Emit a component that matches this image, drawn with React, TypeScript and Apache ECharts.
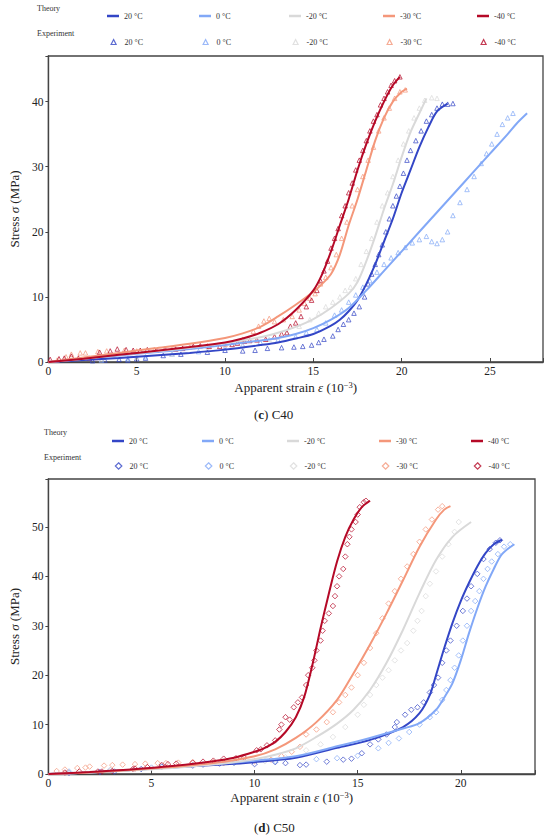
import React, { useEffect, useRef } from "react";
import * as echarts from "echarts";

const FONT = "Liberation Serif";

const tempLabels = ["20 °C", "0 °C", "-20 °C", "-30 °C", "-40 °C"];
const tempColors = ["#3346c6", "#82a8f7", "#d9d9d9", "#f4977a", "#b50927"];

// ---------- C40 theory ----------
const c40T20 = [[0,0],[2,0.3],[4,0.6],[6,1.0],[8,1.4],[10,1.9],[12,2.6],[13,3.0],[14,3.6],[15,4.3],[16,5.6],[16.5,6.5],[17,7.8],[17.5,9.5],[18,12],[18.5,15],[19,18.5],[19.5,22],[20,26],[20.5,29.5],[21,33],[21.5,36],[22,38.5],[22.6,39.7]];
const c40T0 = [[0,0],[2,0.5],[4,1.0],[6,1.5],[8,2.0],[10,2.6],[12,3.3],[13,3.7],[14,4.3],[15,5.2],[16,6.5],[17,8.3],[18,11],[19,14],[20,17],[21,20],[22,23],[23,26],[24,29],[25,32],[26,35],[26.5,36.6],[27.1,38.2]];
const c40Tm20 = [[0,0],[2,0.5],[4,1.1],[6,1.6],[8,2.2],[10,2.9],[12,3.8],[13,4.5],[14,5.4],[15,6.6],[16,8.3],[17,10.5],[17.5,12.3],[18,15.5],[18.5,19.3],[19,23.5],[19.5,27.3],[20,31.5],[20.5,35.3],[21,38.2],[21.4,40.5]];
const c40Tm30 = [[0,0],[2,0.7],[4,1.4],[6,2.1],[8,2.8],[10,3.7],[11,4.4],[12,5.4],[13,7],[14,8.8],[15,10.8],[15.5,12],[16,13.5],[16.5,16.5],[17,21],[17.5,25],[18,29.5],[18.5,34],[19,37.5],[19.5,40],[20,41.5],[20.3,42]];
const c40Tm40 = [[0,0],[2,0.5],[4,1.1],[6,1.7],[8,2.3],[10,3.0],[11,3.6],[12,4.5],[13,5.8],[14,8],[15,11],[15.5,13.5],[16,17],[16.5,21],[17,25],[17.5,29.5],[18,33.5],[18.5,37],[19,40],[19.5,42.5],[19.9,43.8]];

// ---------- C40 experiment ----------
const c40E20 = [[2.5,0.2],[3.2,0.3],[4,0.4],[4.5,0.3],[5,0.5],[5.5,0.6],[6.5,1.0],[7.5,1.2],[9,1.5],[10,1.8],[11,1.7],[11.7,1.8],[12.4,2.1],[13.2,2.2],[13.9,2.3],[14.4,2.4],[14.9,2.6],[15.3,3.0],[15.6,3.5],[16.1,4.0],[16.4,5.0],[16.7,5.8],[17,6.5],[17.3,7.5],[17.6,8.5],[17.9,10],[18.1,12],[18.3,13.5],[18.5,15],[18.7,16.5],[18.9,18],[19.1,20],[19.3,22],[19.5,24],[19.7,25.5],[19.9,27],[20.1,29],[20.3,31],[20.5,32.5],[20.8,34],[21.1,35.5],[21.4,37],[21.7,38],[22,39],[22.3,39.6],[22.6,39.6],[22.9,39.7]];
const c40E0 = [[3,0.3],[4.5,0.5],[5.5,0.8],[7,1.2],[8.5,1.6],[10,2.2],[11,2.6],[12,3],[13,3.4],[14,3.9],[14.6,4.5],[15.2,5],[15.7,6],[16.2,7.2],[16.6,8],[17,9.2],[17.4,10.3],[17.8,11.5],[18.2,12.5],[18.6,13.8],[19,15],[19.4,16],[19.8,16.8],[20.2,17.6],[20.6,18.3],[21,18.8],[21.4,19.3],[21.7,18.5],[22,18.2],[22.3,18.8],[22.6,20],[22.9,22.5],[23.3,24.5],[23.7,26.5],[24.1,28.5],[24.5,30.5],[24.8,32],[25.1,33.5],[25.4,35],[25.7,36.5],[26,37.5],[26.3,38.2]];
const c40Em20 = [[3,0.5],[5,0.8],[7,1.2],[9,1.8],[11,2.5],[12.5,3.5],[13.5,4.5],[14.2,5.5],[14.8,6.5],[15.3,7.5],[15.7,8.5],[16.1,9.2],[16.5,10],[16.8,11],[17.1,11.5],[17.4,12.8],[17.7,15],[18,17],[18.3,19],[18.6,21.5],[18.9,24],[19.2,26],[19.5,28.5],[19.8,31],[20.1,33.5],[20.4,35.5],[20.7,37.5],[21,39],[21.3,40.2],[21.7,40.6],[22,40.5]];
const c40Em30 = [[0.5,0.3],[1,0.8],[1.3,1.2],[1.8,1.4],[2.1,1.4],[2.8,1.6],[3.3,1.7],[4.3,1.8],[5,1.7],[6,1.9],[7,2.1],[8,2.3],[9,2.5],[10,2.7],[11,3.5],[11.6,4.7],[11.9,5.5],[12.2,6.3],[12.5,6.7],[12.8,6.2],[13.3,6.5],[13.8,7],[14.2,8],[14.5,9],[14.8,9.8],[15.1,10.5],[15.4,12],[15.7,13],[16,14.5],[16.3,16.5],[16.6,19],[16.9,21.5],[17.2,24],[17.5,26.5],[17.8,28.5],[18.1,31],[18.4,33],[18.7,35.5],[19,37.5],[19.3,39],[19.6,40.5],[19.9,41.5],[20.2,41.8]];
const c40Em40 = [[0.1,0.4],[0.6,0.5],[0.9,0.6],[1.3,0.9],[1.7,0.6],[2.3,0.6],[2.7,0.7],[2.9,1.5],[3.5,1.7],[3.9,2.0],[4.4,1.9],[4.8,1.8],[5.2,1.8],[5.6,1.9],[6.1,1.8],[6.6,2.0],[7.2,2.0],[7.6,2.1],[8.2,2.4],[8.6,2.5],[9.1,2.4],[9.7,2.4],[10.4,2.7],[10.7,2.9],[11.1,3.2],[11.4,3.3],[11.8,3.4],[12.3,3.5],[12.8,3.9],[13.2,4.3],[13.5,4.5],[13.7,5.5],[14,6],[14.3,7],[14.6,8.5],[14.9,9.5],[15.2,11],[15.4,12.5],[15.6,14],[15.8,15.5],[16,17.5],[16.2,19],[16.4,20.5],[16.6,22.5],[16.8,24],[17,26],[17.2,27.5],[17.4,29.5],[17.6,31],[17.8,32.5],[18,34],[18.2,35.5],[18.4,37],[18.6,38],[18.8,39.5],[19,40.5],[19.2,41.5],[19.4,42.5],[19.6,43.2],[19.9,43.8]];

// ---------- C50 theory ----------
const c50T20 = [[0,0],[2,0.3],[4,0.8],[6,1.3],[8,1.8],[10,2.4],[12,3.3],[14,5.3],[15.6,6.9],[17.2,9.5],[18,12.3],[18.5,16],[18.8,20],[19.2,25.5],[19.6,30.6],[20,35],[20.4,38.7],[20.8,42],[21.2,44.7],[21.6,46.5],[22,47.4]];
const c50T0 = [[0,0],[2,0.3],[4,0.8],[6,1.4],[8,2.0],[10,2.7],[12,3.6],[14,5.6],[15.6,7.3],[17.2,9.2],[18,10.3],[18.8,13],[19.2,15.5],[19.6,18.4],[20,23],[20.4,28.5],[20.8,33.5],[21.2,37.9],[21.6,41.5],[22,44.5],[22.6,46.5]];
const c50Tm20 = [[0,0],[2,0.3],[4,0.7],[6,1.2],[8,1.9],[10,3.0],[11,3.9],[12,5.2],[13,7.5],[14,10.2],[14.8,13],[15.6,17],[16.4,22.5],[17.2,29.2],[18,36.6],[18.8,43.3],[19.6,48],[20.5,51]];
const c50Tm30 = [[0,0],[2,0.3],[4,0.8],[6,1.4],[8,2.2],[10,3.6],[11,5.0],[12,7.3],[13,10.5],[14,15],[14.8,20.4],[15.6,26.2],[16.4,32.5],[17.2,39.2],[18,46],[18.8,51.5],[19.2,53.5],[19.5,54.2]];
const c50Tm40 = [[0,0],[2,0.4],[4,0.9],[6,1.6],[8,2.6],[9,3.3],[10,4.5],[10.5,5.3],[11,6.5],[11.5,8.5],[12,11.5],[12.4,15.5],[12.8,22],[13.2,29.5],[13.6,36.5],[14,43],[14.4,48],[14.8,51.5],[15.2,54],[15.6,55.3]];

// ---------- C50 experiment ----------
const c50E20 = [[1,0.2],[2.5,0.4],[3.2,0.5],[4.5,1],[5.5,1.5],[7,1.7],[7.5,1.9],[8.3,2.1],[9,2.2],[10,2],[11,2.4],[11.5,2.2],[12.2,1.8],[12.5,1.9],[13.5,2.5],[14.3,2.9],[14.7,3.1],[15.2,4.2],[15.6,6],[16,7],[16.4,8],[16.8,9.5],[16.9,10.5],[17.3,12],[17.6,13],[17.9,13.5],[18.2,14.5],[18.5,16.5],[18.7,18],[18.9,19.5],[19.1,22.5],[19.3,25],[19.5,27],[19.8,30],[20.1,33],[20.3,35.5],[20.5,38],[20.8,40.5],[21.1,43.5],[21.4,45.5],[21.7,46.8],[21.9,47.3]];
const c50E0 = [[1,0.5],[3,0.8],[5,1.3],[7,1.8],[9,2.2],[11,2.6],[13,3],[14,3.2],[15,3.7],[16,5.2],[16.5,6.3],[17,7.2],[17.5,8.5],[18,10],[18.5,11.5],[18.8,12.5],[19.1,15],[19.3,17],[19.5,19],[19.7,21.5],[19.9,24],[20.1,27],[20.3,30],[20.5,33],[20.7,35],[20.9,37],[21.1,39.5],[21.3,41.5],[21.5,43],[21.8,44.5],[22.1,46],[22.4,46.5]];
const c50Em20 = [[1,0.3],[3,0.8],[5,1.2],[7,1.8],[9,2.2],[10.5,2.6],[11.5,3.4],[12.5,4.8],[13.2,6],[13.8,7.5],[14.4,9.5],[15,12],[15.3,14],[15.6,16],[15.9,18],[16.2,19.5],[16.5,21],[16.8,23],[17.1,25],[17.4,26.5],[17.7,29],[17.9,31],[18.1,33],[18.3,36],[18.5,38.5],[18.8,41],[19.1,44],[19.4,46.5],[19.7,49],[19.9,51]];
const c50Em30 = [[0.4,0.6],[0.8,0.9],[1.4,1.2],[1.8,1.3],[2,1.5],[2.7,1.7],[3.1,1.8],[3.6,1.9],[4.2,2.0],[4.7,2.1],[5.3,2.2],[5.7,2.2],[6.3,2.3],[7,2.4],[8,2.4],[8.5,2.2],[9.1,2.6],[10,2.6],[10.8,2.9],[11.3,3.6],[11.8,4.5],[12.2,5.5],[12.5,8],[13,9],[13.5,10.5],[13.8,12.5],[14.1,14.5],[14.4,16],[14.7,17.5],[15,20],[15.3,22.5],[15.6,25.5],[15.9,28.5],[16.2,31.5],[16.5,34.5],[16.8,37],[17.1,39.5],[17.4,42],[17.7,44.5],[18,47],[18.3,49.5],[18.6,51.5],[18.9,53.5],[19.1,54.2]];
const c50Em40 = [[0.8,0.3],[1.5,0.5],[2.4,0.5],[2.6,0.5],[3.1,0.6],[4.1,1],[4.2,1.1],[4.8,1.4],[5.5,1.8],[5.8,2],[6.2,2.1],[7,2.3],[7.5,2.5],[8,2.7],[8.5,3.1],[9.1,3.2],[9.5,3.3],[10.1,4.8],[10.3,5],[10.6,5.8],[11,6.8],[11.2,9],[11.3,10],[11.5,11.5],[11.7,11],[11.9,13.5],[12.1,14.5],[12.3,15.5],[12.5,18],[12.6,20],[12.8,21.5],[12.9,23],[13,25],[13.2,27],[13.3,29],[13.4,31],[13.6,32.5],[13.8,34],[13.9,36],[14,38],[14.1,40],[14.3,41.5],[14.4,44],[14.5,46.5],[14.6,48],[14.7,49.5],[14.9,51],[15,52.5],[15.1,54],[15.3,55],[15.4,55.3]];

const c40Theory = [c40T20, c40T0, c40Tm20, c40Tm30, c40Tm40];
const c40Exp = [c40E20, c40E0, c40Em20, c40Em30, c40Em40];
const c50Theory = [c50T20, c50T0, c50Tm20, c50Tm30, c50Tm40];
const c50Exp = [c50E20, c50E0, c50Em20, c50Em30, c50Em40];

const c40XTicks = [0, 5, 10, 15, 20, 25];
const c40YTicks = [0, 10, 20, 30, 40];
const c50XTicks = [0, 5, 10, 15, 20];
const c50YTicks = [0, 10, 20, 30, 40, 50];

export default function App() {
  const ref = useRef<HTMLDivElement>(null);
  useEffect(() => {
    if (!ref.current) return;
    const chart = echarts.init(ref.current, undefined, { renderer: "svg" });

    const charts = [
      { key: "c40", theory: c40Theory, exp: c40Exp, symbol: "triangle", size: 4.5, legSize: 5, grid: { left: 37, top: 56, width: 506, height: 306 }, xMax: 28, yMax: 47, xTicks: c40XTicks, yTicks: c40YTicks, nameGapX: 18, nameGapY: 17,
        legend: { labelX: 37, tY: 9, tRow: 16, eY: 34, eRow: 42, lefts: [107, 199, 289, 383, 477] } },
      { key: "c50", theory: c50Theory, exp: c50Exp, symbol: "diamond", size: 5.5, legSize: 6.5, grid: { left: 46, top: 479, width: 489, height: 295 }, xMax: 23.6, yMax: 59.7, xTicks: c50XTicks, yTicks: c50YTicks, nameGapX: 16, nameGapY: 18,
        legend: { labelX: 44, tY: 433, tRow: 441, eY: 458, eRow: 466, lefts: [112, 202, 287, 379, 471] } },
    ];

    const series: any[] = [];
    const legends: any[] = [];
    const nameMap: Record<string, string> = {};
    const graphics: any[] = [];

    charts.forEach((c, ci) => {
      c.exp.forEach((d, i) => {
        const name = `${c.key}-E-${i}`;
        nameMap[name] = tempLabels[i];
        series.push({
          type: "scatter", name, xAxisIndex: ci, yAxisIndex: ci, data: d,
          symbol: c.symbol, symbolSize: c.size,
          itemStyle: { color: "transparent", borderColor: tempColors[i], borderWidth: 0.9 }, z: 2,
        });
      });
      c.theory.forEach((d, i) => {
        const name = `${c.key}-T-${i}`;
        nameMap[name] = tempLabels[i];
        series.push({
          type: "line", name, xAxisIndex: ci, yAxisIndex: ci, data: d,
          showSymbol: false, symbol: "none", smooth: 0.3,
          lineStyle: { color: tempColors[i], width: 2 }, itemStyle: { color: tempColors[i] }, z: 3,
        });
      });
      for (let i = 0; i < 5; i++) {
        const common = {
          padding: 0, selectedMode: false,
          formatter: (n: string) => nameMap[n] || n,
        };
        legends.push({
          ...common, left: c.legend.lefts[i], top: c.legend.tRow - 5, itemWidth: 12, itemHeight: 2.5,
          textStyle: { fontFamily: FONT, fontSize: 8, color: "#333", lineHeight: 10 },
          data: [{ name: `${c.key}-T-${i}`, icon: "rect", itemStyle: { color: tempColors[i], borderWidth: 0 } }],
        });
        const ls = c.legSize;
        legends.push({
          ...common, left: c.legend.lefts[i] + 6 - ls / 2, top: c.legend.eRow - 5, itemWidth: ls, itemHeight: ls,
          textStyle: { fontFamily: FONT, fontSize: 8, color: "#333", lineHeight: 10, padding: [0, 0, 0, 6 - ls / 2] },
          data: [{ name: `${c.key}-E-${i}`, icon: c.symbol, itemStyle: { color: "transparent", borderColor: tempColors[i], borderWidth: 1.2 } }],
        });
      }
      graphics.push({ type: "text", left: c.legend.labelX, top: c.legend.tY - 5, style: { text: "Theory", fontFamily: FONT, fontSize: 8, fill: "#333" } });
      graphics.push({ type: "text", left: c.legend.labelX, top: c.legend.eY - 5, style: { text: "Experiment", fontFamily: FONT, fontSize: 8, fill: "#333" } });
    });

    const axisColor = "#444";
    const xAxes = charts.map((c, ci) => ({
      type: "value", gridIndex: ci, min: 0, max: c.xMax, interval: 5,
      name: "Apparent strain {i|ε} (10{s|−3})", nameLocation: "middle", nameGap: c.nameGapX,
      nameTextStyle: { fontFamily: FONT, fontSize: 13, color: "#222", lineHeight: 15,
        rich: { i: { fontFamily: FONT, fontSize: 13, fontStyle: "italic", color: "#222" }, s: { fontFamily: FONT, fontSize: 8.5, color: "#222", verticalAlign: "top", lineHeight: 10 } } },
      axisLine: { show: true, lineStyle: { color: axisColor, width: 1.3 } },
      axisTick: { show: true, inside: true, length: 4, lineStyle: { color: axisColor } },
      axisLabel: { fontFamily: FONT, fontSize: 11.5, color: "#222", margin: 3,
        formatter: (v: number) => (c.xTicks.indexOf(v) >= 0 ? String(v) : "") },
      splitLine: { show: false },
    }));
    const yAxes = charts.map((c, ci) => ({
      type: "value", gridIndex: ci, min: 0, max: c.yMax, interval: 10,
      name: "Stress {i|σ} (MPa)", nameLocation: "middle", nameGap: c.nameGapY,
      nameTextStyle: { fontFamily: FONT, fontSize: 13, color: "#222",
        rich: { i: { fontFamily: FONT, fontSize: 13, fontStyle: "italic", color: "#222" } } },
      axisLine: { show: true, lineStyle: { color: axisColor, width: 1.3 } },
      axisTick: { show: true, inside: false, length: 3, lineStyle: { color: axisColor } },
      axisLabel: { fontFamily: FONT, fontSize: 11.5, color: "#222", margin: 5,
        formatter: (v: number) => (c.yTicks.indexOf(v) >= 0 ? String(v) : "") },
      splitLine: { show: false },
    }));

    chart.setOption({
      animation: false,
      backgroundColor: "#fff",
      title: [
        { text: "({b|c}) C40", left: 254, top: 406, padding: 0,
          textStyle: { fontFamily: FONT, fontSize: 13, fontWeight: "normal", color: "#222", lineHeight: 16, rich: { b: { fontFamily: FONT, fontSize: 13, fontWeight: "bold", color: "#222" } } } },
        { text: "({b|d}) C50", left: 254, top: 819, padding: 0,
          textStyle: { fontFamily: FONT, fontSize: 13, fontWeight: "normal", color: "#222", lineHeight: 16, rich: { b: { fontFamily: FONT, fontSize: 13, fontWeight: "bold", color: "#222" } } } },
      ],
      grid: charts.map((c) => ({ ...c.grid, show: true, borderColor: axisColor, borderWidth: 1.3, backgroundColor: "transparent" })),
      xAxis: xAxes,
      yAxis: yAxes,
      legend: legends,
      graphic: graphics,
      series,
    });
    return () => chart.dispose();
  }, []);
  return <div ref={ref} style={{ position: "absolute", left: 0, top: 0, width: 550, height: 837 }} />;
}
